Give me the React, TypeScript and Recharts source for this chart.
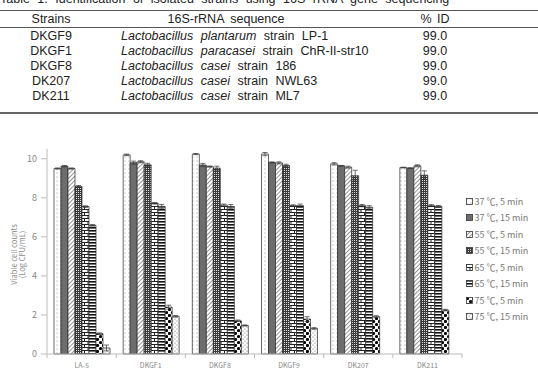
import React from "react";
import { BarChart, Bar, XAxis, YAxis, ErrorBar } from "recharts";

// table 1
const strains = ["DKGF9", "DKGF1", "DKGF8", "DK207", "DK211"];
const species = [
  "Lactobacillus plantarum",
  "Lactobacillus paracasei",
  "Lactobacillus casei",
  "Lactobacillus casei",
  "Lactobacillus casei",
];
const strainIds = ["LP-1", "ChR-II-str10", "186", "NWL63", "ML7"];
const identity = ["99.0", "99.0", "99.0", "99.0", "99.0"];

// chart
const categories = ["LA-5", "DKGF1", "DKGF8", "DKGF9", "DK207", "DK211"];
const seriesNames = [
  "37 ℃, 5 min",
  "37 ℃, 15 min",
  "55 ℃, 5 min",
  "55 ℃, 15 min",
  "65 ℃, 5 min",
  "65 ℃, 15 min",
  "75 ℃, 5 min",
  "75 ℃, 15 min",
];
const t37m5 = [9.5, 10.2, 10.24, 10.24, 9.74, 9.55];
const t37m15 = [9.62, 9.8, 9.68, 9.81, 9.64, 9.52];
const t55m5 = [9.5, 9.85, 9.6, 9.79, 9.57, 9.64];
const t55m15 = [8.58, 9.69, 9.52, 9.66, 9.13, 9.16];
const t65m5 = [7.55, 7.72, 7.63, 7.6, 7.6, 7.6];
const t65m15 = [6.59, 7.56, 7.56, 7.6, 7.52, 7.56];
const t75m5 = [1.04, 2.4, 1.7, 1.79, 1.91, 2.25];
const t75m15 = [0.31, 1.93, 1.46, 1.31, null, null];

const e37m5 = [0.03, 0.04, 0.03, 0.08, 0.06, 0.02];
const e37m15 = [0.03, 0.08, 0.08, 0.03, 0.02, 0.02];
const e55m5 = [0.03, 0.05, 0.03, 0.05, 0.05, 0.05];
const e55m15 = [0.05, 0.08, 0.1, 0.06, 0.28, 0.22];
const e65m5 = [0.04, 0.04, 0.05, 0.04, 0.06, 0.05];
const e65m15 = [0.04, 0.1, 0.1, 0.08, 0.08, 0.05];
const e75m5 = [0.04, 0.1, 0.04, 0.12, 0.05, 0.04];
const e75m15 = [0.15, 0.04, 0.03, 0.04, null, null];

const yTicks = [0, 2, 4, 6, 8, 10];

const values = [t37m5, t37m15, t55m5, t55m15, t65m5, t65m15, t75m5, t75m15];
const errors = [e37m5, e37m15, e55m5, e55m15, e65m5, e65m15, e75m5, e75m15];
const patternIds = ["p1", "p2", "p3", "p4", "p5", "p6", "p7", "p8"];

const data = categories.map((name, i) => {
  const row: Record<string, any> = { name };
  values.forEach((v, s) => {
    row[`s${s}`] = v[i];
    row[`e${s}`] = errors[s][i];
  });
  return row;
});

const CHART_W = 538;
const MARGIN = { top: 9, right: 76, left: 0, bottom: 0 };
const Y_W = 47;
const BAND = (CHART_W - MARGIN.left - MARGIN.right - Y_W) / categories.length;
const chartFont = "'Noto Sans CJK KR', 'Noto Sans', sans-serif";
const tableFont = "'Liberation Sans Narrow', 'Arial Narrow', 'Liberation Sans', sans-serif";

function Patterns() {
  return (
    <svg width={0} height={0} style={{ position: "absolute" }}>
      <defs>
        <pattern id="p1" width={4} height={4} patternUnits="userSpaceOnUse">
          <rect width={4} height={4} fill="#fff" />
          <circle cx={1} cy={1} r={0.5} fill="#777" />
        </pattern>
        <pattern id="p2" width={4} height={4} patternUnits="userSpaceOnUse">
          <rect width={4} height={4} fill="#6d6d6d" />
        </pattern>
        <pattern id="p3" width={3} height={3} patternUnits="userSpaceOnUse" patternTransform="rotate(45)">
          <rect width={3} height={3} fill="#fff" />
          <rect width={0.9} height={3} fill="#888" />
        </pattern>
        <pattern id="p4" width={2} height={2} patternUnits="userSpaceOnUse">
          <rect width={2} height={2} fill="#3a3a3a" />
          <rect width={1} height={1} fill="#ddd" />
        </pattern>
        <pattern id="p5" width={7} height={6} patternUnits="userSpaceOnUse">
          <rect width={7} height={6} fill="#fff" />
          <rect y={0} width={7} height={1} fill="#222" />
          <rect y={3} width={7} height={1} fill="#222" />
          <rect x={0} y={0} width={1} height={3} fill="#222" />
          <rect x={3.5} y={3} width={1} height={3} fill="#222" />
        </pattern>
        <pattern id="p6" width={3} height={3} patternUnits="userSpaceOnUse">
          <rect width={3} height={3} fill="#fff" />
          <rect width={3} height={1.6} fill="#111" />
        </pattern>
        <pattern id="p7" width={6} height={6} patternUnits="userSpaceOnUse">
          <rect width={6} height={6} fill="#fff" />
          <circle cx={1.5} cy={1.5} r={1.6} fill="#000" />
          <circle cx={4.5} cy={4.5} r={1.6} fill="#000" />
        </pattern>
        <pattern id="p8" width={4} height={4} patternUnits="userSpaceOnUse">
          <rect width={4} height={4} fill="#fff" />
          <circle cx={1} cy={1} r={0.6} fill="#666" />
          <circle cx={3} cy={3} r={0.6} fill="#666" />
        </pattern>
      </defs>
    </svg>
  );
}

function XTick(props: any) {
  const { x, y, payload, index } = props;
  const last = index === categories.length - 1;
  return (
    <g>
      <line x1={x - BAND / 2} x2={x - BAND / 2} y1={y} y2={y + 4} stroke="#bbb" />
      {last && <line x1={x + BAND / 2} x2={x + BAND / 2} y1={y} y2={y + 4} stroke="#bbb" />}
      <text x={x} y={y + 11} textAnchor="middle" dominantBaseline="central" fontSize={7} fill="#888" fontFamily={chartFont}>
        {payload.value}
      </text>
    </g>
  );
}

function YLabel(props: any) {
  const { viewBox } = props;
  const cy = viewBox.y + viewBox.height / 2 + 3;
  return (
    <g fontFamily={chartFont} fontSize={7.5} fill="#888">
      <text x={13.5} y={cy} textAnchor="middle" dominantBaseline="central" transform={`rotate(-90 13.5 ${cy})`}>
        Viable cell counts
      </text>
      <text x={21} y={cy} textAnchor="middle" dominantBaseline="central" transform={`rotate(-90 21 ${cy})`}>
        (Log CFU/mL)
      </text>
    </g>
  );
}

function Table() {
  const row = { position: "absolute" as const, left: 0, width: 538, height: 15, lineHeight: "15px" };
  return (
    <div style={{ position: "absolute", left: 0, top: 0, width: 538, height: 130, fontFamily: tableFont, fontSize: 12.5, color: "#222" }}>
      <div style={{ position: "absolute", left: 0, top: -8, whiteSpace: "nowrap", wordSpacing: 4, fontSize: 12.5 }}>
        Table 1. Identification of isolated strains using 16S rRNA gene sequencing
      </div>
      <div style={{ position: "absolute", left: 0, top: 10, width: 538, height: 1, background: "#555" }} />
      <div style={{ ...row, top: 11, height: 16, lineHeight: "16px" }}>
        <span style={{ position: "absolute", left: 0, width: 102, textAlign: "center" }}>Strains</span>
        <span style={{ position: "absolute", left: 102, width: 248, textAlign: "center", wordSpacing: 3 }}>16S-rRNA sequence</span>
        <span style={{ position: "absolute", left: 380, width: 110, textAlign: "center", wordSpacing: 2 }}>% ID</span>
      </div>
      <div style={{ position: "absolute", left: 0, top: 27, width: 538, height: 1, background: "#555" }} />
      {strains.map((s, i) => (
        <div key={s} style={{ ...row, top: 29 + i * 15 }}>
          <span style={{ position: "absolute", left: 0, width: 102, textAlign: "center" }}>{s}</span>
          <span style={{ position: "absolute", left: 121, whiteSpace: "nowrap", wordSpacing: 4 }}>
            <i>{species[i]}</i> strain {strainIds[i]}
          </span>
          <span style={{ position: "absolute", left: 380, width: 110, textAlign: "center" }}>{identity[i]}</span>
        </div>
      ))}
      <div style={{ position: "absolute", left: 0, top: 112, width: 538, height: 2, background: "#666" }} />
    </div>
  );
}

function Legend() {
  return (
    <div style={{ position: "absolute", left: 466, top: 193, fontFamily: chartFont, fontSize: 9, color: "#777" }}>
      {seriesNames.map((n, i) => (
        <div key={n} style={{ display: "flex", alignItems: "center", height: 16.5, whiteSpace: "nowrap" }}>
          <svg width={7} height={7} style={{ display: "block" }}>
            <rect x={0.5} y={0.5} width={6} height={6} fill={`url(#${patternIds[i]})`} stroke="#333" strokeWidth={0.8} />
          </svg>
          <span style={{ marginLeft: 1.5 }}>{n}</span>
        </div>
      ))}
    </div>
  );
}

export default function App() {
  return (
    <div style={{ position: "fixed", left: 0, top: 0, width: 538, height: 376, overflow: "hidden", background: "#fff" }}>
      <Patterns />
      <Table />
      <div style={{ position: "absolute", left: 0, top: 140 }}>
        <BarChart width={CHART_W} height={236} data={data} margin={MARGIN} barGap={0} barSize={7}>
          <XAxis
            dataKey="name"
            axisLine={{ stroke: "#bbb" }}
            tickLine={false}
            tickSize={0}
            tickMargin={0}
            height={22}
            interval={0}
            tick={<XTick />}
          />
          <YAxis
            domain={[0, 10.5]}
            ticks={yTicks}
            width={Y_W}
            axisLine={{ stroke: "#bbb" }}
            tickLine={{ stroke: "#bbb" }}
            tickSize={6}
            tickMargin={4}
            tick={{ fill: "#888", fontSize: 9, fontFamily: chartFont }}
            label={<YLabel />}
          />
          {seriesNames.map((n, s) => (
            <Bar
              key={n}
              dataKey={`s${s}`}
              name={n}
              fill={`url(#${patternIds[s]})`}
              stroke="#2a2a2a"
              strokeWidth={0.7}
              isAnimationActive={false}
            >
              <ErrorBar dataKey={`e${s}`} width={2.5} stroke="#333" strokeWidth={0.7} />
            </Bar>
          ))}
        </BarChart>
      </div>
      <Legend />
    </div>
  );
}
